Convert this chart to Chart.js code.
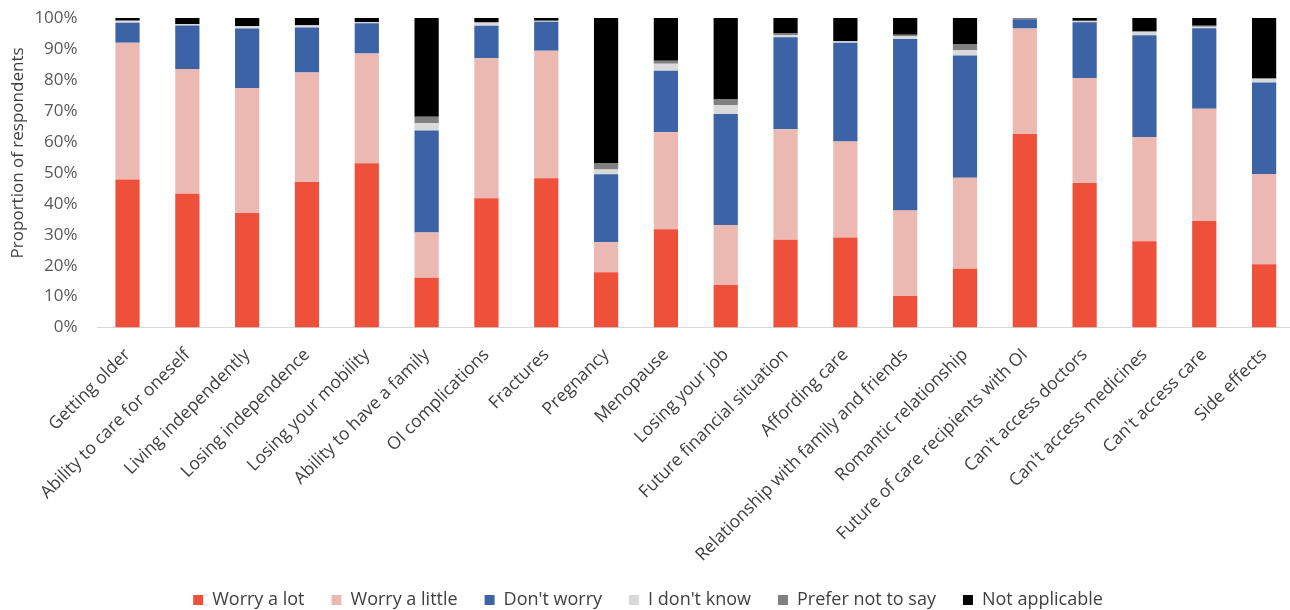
<!DOCTYPE html>
<html>
<head>
<meta charset="utf-8">
<script src="https://cdn.jsdelivr.net/npm/chart.js@4/dist/chart.umd.min.js"></script>
<style>
html,body{margin:0;padding:0;background:#fff;overflow:hidden;}
#wrap{width:1290px;height:610px;position:relative;overflow:hidden;}
</style>
</head>
<body>
<div id="wrap"><canvas id="c" width="1294" height="610"></canvas></div>
<script>
const categories = ["Getting older","Ability to care for oneself","Living independently","Losing independence","Losing your mobility","Ability to have a family","OI complications","Fractures","Pregnancy","Menopause","Losing your job","Future financial situation","Affording care","Relationship with family and friends","Romantic relationship","Future of care recipients with OI","Can't access doctors","Can't access medicines","Can't access care","Side effects"];
const worryALot    = [47.8,43.2,37.0,47.0,53.1,16.1,41.8,48.2,17.9,31.8,13.8,28.4,29.1,10.2,19.0,62.5,46.7,27.9,34.4,20.5];
const worryALittle = [44.2,40.3,40.4,35.4,35.4,14.6,45.2,41.2, 9.7,31.3,19.3,35.7,31.0,27.6,29.4,34.1,33.9,33.7,36.3,29.1];
const dontWorry    = [ 6.5,14.1,19.2,14.5, 9.8,33.0,10.5, 9.4,21.9,19.9,35.9,29.7,31.9,55.4,39.5, 3.0,18.0,32.8,26.0,29.6];
const dontKnow     = [ 0.5, 0.4, 0.7, 0.7, 0.4, 2.3, 1.0, 0.3, 1.6, 2.2, 2.9, 0.6, 0.4, 1.0, 1.7, 0.1, 0.4, 1.1, 0.5, 1.0];
const preferNot    = [ 0.2, 0.1, 0.1, 0.1, 0.0, 2.1, 0.2, 0.0, 1.9, 1.0, 1.8, 0.6, 0.2, 0.4, 2.0, 0.3, 0.1, 0.2, 0.3, 0.3];
const notApplicable= [ 0.8, 1.9, 2.6, 2.3, 1.3,31.9, 1.3, 0.9,47.0,13.8,26.3, 5.0, 7.4, 5.4, 8.4, 0.0, 0.9, 4.3, 2.5,19.5];
const seriesNames = ["Worry a lot","Worry a little","Don't worry","I don't know","Prefer not to say","Not applicable"];
const yTicks = [0,10,20,30,40,50,60,70,80,90,100];

const colors = ["#EE5039","#ECB9B2","#3B63A5","#D9D9D9","#808080","#000000"];
const seriesData = [worryALot,worryALittle,dontWorry,dontKnow,preferNot,notApplicable];

const FONT = "'Open Sans', 'DejaVu Sans', sans-serif";
Chart.defaults.font.family = FONT;
Chart.defaults.color = "#595959";

const LEG_FONT = 18, LEG_PAD = 27, BOTTOM_PAD = -9;
const legendH = LEG_FONT * 1.2 + LEG_PAD + 10;
const PLOT_BOTTOM = 324;
const PLOT_TOP = 18;

new Chart(document.getElementById('c'), {
  type: 'bar',
  data: {
    labels: categories,
    datasets: seriesNames.map((n,i)=>({
      label: n,
      data: seriesData[i],
      backgroundColor: colors[i],
      borderWidth: 0,
      barPercentage: 0.405,
      categoryPercentage: 1.0
    }))
  },
  options: {
    responsive: false,
    animation: false,
    layout: { padding: { left: 2, right: 0, top: 0, bottom: BOTTOM_PAD } },
    plugins: {
      legend: {
        position: 'bottom',
        labels: { boxWidth: 10, boxHeight: 10, padding: LEG_PAD, font: { size: LEG_FONT }, color: "#404040" }
      },
      tooltip: { enabled: false }
    },
    scales: {
      x: {
        stacked: true,
        grid: { display: false, drawTicks: false },
        border: { color: "#D9D9D9", width: 1 },
        ticks: { minRotation: 45, maxRotation: 45, font: { size: 17.5 }, color: "#404040", padding: 17, autoSkip: false },
        afterFit: (axis) => {
          axis.height = (610 - BOTTOM_PAD) - legendH - PLOT_BOTTOM;
          axis.paddingLeft = 0; axis.paddingRight = 0;
        }
      },
      y: {
        stacked: true,
        min: 0, max: 100,
        afterBuildTicks: (axis) => { axis.ticks = yTicks.map(v => ({ value: v })); },
        grid: { display: false, drawTicks: false },
        border: { display: false },
        ticks: { font: { size: 17 }, color: "#595959", padding: 20, callback: v => v + "%" },
        title: { display: true, text: "         Proportion of respondents", font: { size: 17 }, color: "#404040", padding: { top: 6, bottom: -14 } },
        afterFit: (axis) => { axis.paddingTop = PLOT_TOP; axis.paddingBottom = 0; }
      }
    }
  }
});
</script>
</body>
</html>
